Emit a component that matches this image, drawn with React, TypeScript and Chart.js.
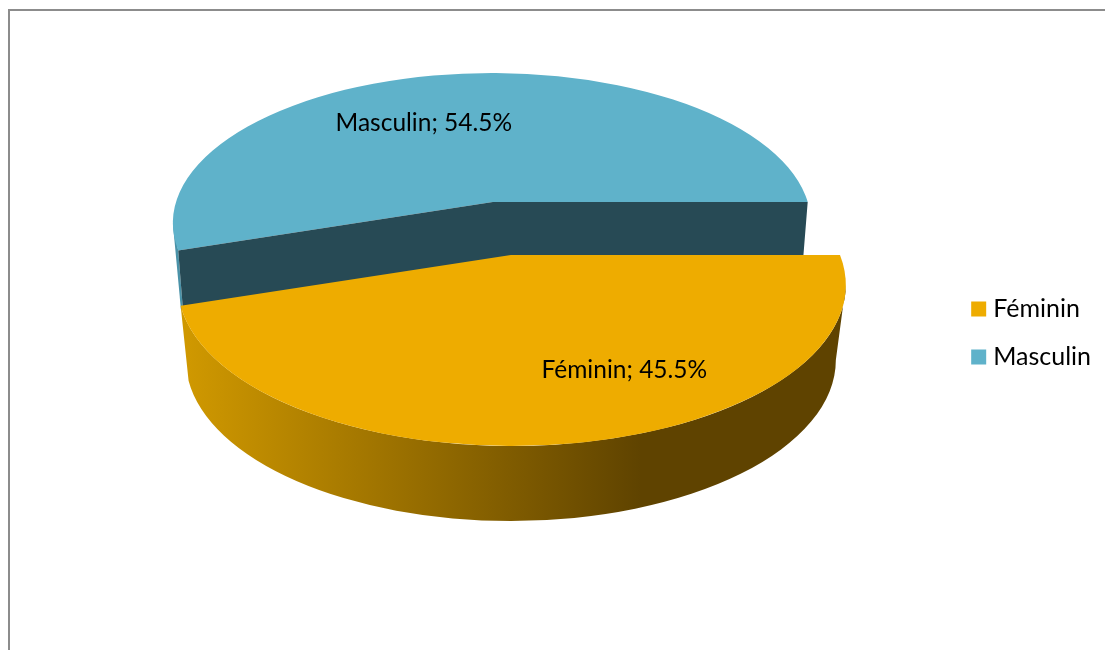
import React, { useEffect, useRef } from "react";
import { Chart, registerables } from "chart.js";

Chart.register(...registerables);

const categories = ["Féminin", "Masculin"];
const shares = [45.5, 54.5];
const colors = ["#EEAC00", "#5FB2CA"];
const wallColor = "#274A55";
const FONT = "Lato";
const LABEL_SIZE = 24.5;
const LEGEND_SIZE = 25;

// Projection of the flat pie, relative to the pie centre given by the library.
const TILT = 0.53;
const faces = [
  { ox: 35, oy: -48, rx: 334, ry: 161, ax: 34, ay: -78, labelX: 147.5, labelY: 37.5 },
  { ox: 15, oy: -110, rx: 319, ry: 150, ax: 16, ay: -131, labelX: -53, labelY: -209.5 },
];
const DEPTH = 75;
const BOTTOM_RX = 325;
const BOTTOM_DX = -1;
const WALL = 59;
const WALL_SCALE = 0.985;

function rim(f: any, cx: number, cy: number, a: number) {
  const px = cx + f.ax, py = cy + f.ay;
  const ex = cx + f.ox, ey = cy + f.oy;
  const dx = Math.cos(a), dy = Math.sin(a) * TILT;
  const qx = (px - ex) / f.rx, qy = (py - ey) / f.ry;
  const ux = dx / f.rx, uy = dy / f.ry;
  const A = ux * ux + uy * uy, B = 2 * (qx * ux + qy * uy), C = qx * qx + qy * qy - 1;
  const t = (-B + Math.sqrt(B * B - 4 * A * C)) / (2 * A);
  const x = px + dx * t, y = py + dy * t;
  return { x, y, phi: Math.atan2((y - ey) / f.ry, (x - ex) / f.rx) };
}

const pie3d = {
  id: "pie3d",
  beforeDatasetDraw(chart: any) {
    const ctx = chart.ctx;
    const arcs = chart.getDatasetMeta(0).data;
    const cx = arcs[0].x, cy = arcs[0].y;
    const [fem, mas] = arcs;
    const ff = faces[0], fm = faces[1];

    ctx.save();
    // Masculin: outer sliver, top face, cut wall
    const m0 = rim(fm, cx, cy, mas.startAngle);
    const m1 = rim(fm, cx, cy, mas.endAngle);
    const mx = cx + fm.ox, my = cy + fm.oy;
    const ax = cx + fm.ax, ay = cy + fm.ay;
    const low = (p: { x: number; y: number }) => ({ x: mx + (p.x - mx) * WALL_SCALE, y: p.y + WALL });

    ctx.fillStyle = "#4A92A8";
    ctx.beginPath();
    ctx.moveTo(mx - fm.rx, my);
    ctx.lineTo(low(m0).x - 2, low(m0).y);
    ctx.lineTo(low(m0).x, low(m0).y);
    ctx.lineTo(m0.x, m0.y);
    ctx.closePath();
    ctx.fill();

    ctx.fillStyle = colors[1];
    ctx.beginPath();
    ctx.moveTo(ax, ay);
    ctx.lineTo(m0.x, m0.y);
    ctx.ellipse(mx, my, fm.rx, fm.ry, 0, m0.phi, m1.phi < m0.phi ? m1.phi + 2 * Math.PI : m1.phi);
    ctx.closePath();
    ctx.fill();

    ctx.fillStyle = wallColor;
    ctx.beginPath();
    ctx.moveTo(m0.x, m0.y);
    ctx.lineTo(ax, ay);
    ctx.lineTo(m1.x, m1.y);
    ctx.lineTo(low(m1).x, low(m1).y);
    ctx.lineTo(ax, ay + WALL);
    ctx.lineTo(low(m0).x, low(m0).y);
    ctx.closePath();
    ctx.fill();

    // Féminin: outer side then top face
    const f0 = rim(ff, cx, cy, fem.startAngle);
    const f1 = rim(ff, cx, cy, fem.endAngle);
    const fx = cx + ff.ox, fy = cy + ff.oy;
    const grad = ctx.createLinearGradient(fx - 324, 0, fx + 130, 0);
    grad.addColorStop(0, "#CF9800");
    grad.addColorStop(1, "#5F4300");
    ctx.fillStyle = grad;
    ctx.beginPath();
    ctx.moveTo(fx + ff.rx, fy);
    ctx.lineTo(fx + BOTTOM_DX + BOTTOM_RX, fy + DEPTH);
    ctx.ellipse(fx + BOTTOM_DX, fy + DEPTH, BOTTOM_RX, ff.ry, 0, 0, f1.phi);
    ctx.lineTo(f1.x, f1.y);
    ctx.ellipse(fx, fy, ff.rx, ff.ry, 0, f1.phi, 0, true);
    ctx.closePath();
    ctx.fill();

    ctx.fillStyle = colors[0];
    ctx.beginPath();
    ctx.moveTo(cx + ff.ax, cy + ff.ay);
    ctx.lineTo(f0.x, f0.y);
    ctx.ellipse(fx, fy, ff.rx, ff.ry, 0, f0.phi, f1.phi);
    ctx.closePath();
    ctx.fill();

    // Data labels
    ctx.fillStyle = "#000";
    ctx.font = `${LABEL_SIZE}px ${FONT}`;
    ctx.textAlign = "center";
    ctx.textBaseline = "middle";
    categories.forEach((c, i) => {
      ctx.fillText(`${c}; ${shares[i].toFixed(1)}%`, cx + faces[i].labelX, cy + faces[i].labelY);
    });
    ctx.restore();
    return false;
  },
};

export default function App() {
  const ref = useRef<HTMLCanvasElement>(null);
  useEffect(() => {
    const chart = new Chart(ref.current!, {
      type: "pie",
      data: {
        labels: categories,
        datasets: [{ data: shares, backgroundColor: colors, borderWidth: 0 }],
      },
      plugins: [pie3d],
      options: {
        responsive: false,
        animation: false,
        rotation: 90,
        layout: { padding: { top: 16, right: 4, bottom: 0, left: 0 } },
        plugins: {
          tooltip: { enabled: false },
          title: { display: false },
          legend: {
            position: "right",
            labels: {
              color: "#000",
              font: { family: FONT, size: LEGEND_SIZE },
              boxWidth: 4,
              boxHeight: 4,
              padding: 23,
              generateLabels: () =>
                categories.map((text, i) => ({
                  text,
                  index: i,
                  fillStyle: colors[i],
                  strokeStyle: colors[i],
                  lineWidth: 11,
                  fontColor: "#000",
                  hidden: false,
                })),
            },
          },
        },
      },
    });
    return () => chart.destroy();
  }, []);
  return (
    <div>
      <div
        style={{
          position: "fixed",
          left: 8,
          top: 9,
          width: 1200,
          height: 800,
          border: "2px solid #8C8C8C",
        }}
      />
      <canvas
        ref={ref}
        width={1105}
        height={650}
        style={{ position: "fixed", left: 0, top: 0, width: 1105, height: 650 }}
      />
    </div>
  );
}
